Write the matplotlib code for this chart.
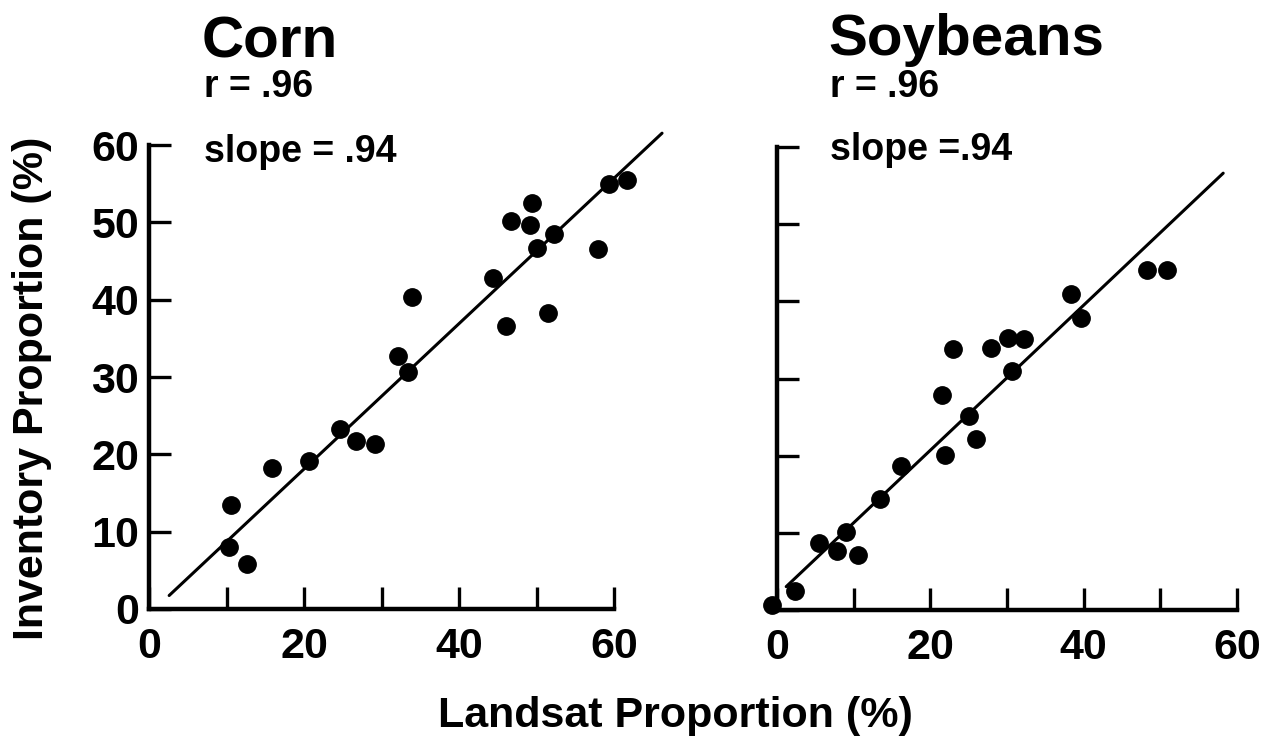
import matplotlib
matplotlib.use("Agg")
import numpy as np
import matplotlib.pyplot as plt

plt.rcParams['font.family'] = ['Liberation Sans', 'DejaVu Sans']
plt.rcParams['font.weight'] = 'bold'

W, H = 1273, 747

# Corn: Landsat vs inventory proportion (%)
corn_landsat = [10.6, 10.3, 12.7, 15.9, 20.7, 24.6, 26.7, 29.1, 32.1, 33.4, 33.9,
                44.4, 46.1, 46.7, 49.4, 49.2, 50.1, 52.2, 51.5, 57.9, 59.3, 61.7]
corn_inventory = [13.4, 8.0, 5.8, 18.2, 19.1, 23.3, 21.7, 21.3, 32.7, 30.6, 40.4,
                  42.8, 36.6, 50.2, 52.5, 49.7, 46.7, 48.5, 38.3, 46.6, 54.9, 55.5]
corn_r = ".96"
corn_slope = 0.94
corn_intercept = -0.7
corn_fit_range = [2.6, 66.2]

# Soybeans: Landsat vs inventory proportion (%)
soy_landsat = [-0.6, 2.3, 5.5, 7.8, 9.0, 10.5, 13.4, 16.2, 21.5, 21.9, 23.0,
               25.1, 26.0, 27.9, 30.1, 32.2, 30.6, 38.4, 39.7, 48.2, 50.9]
soy_inventory = [0.6, 2.5, 8.7, 7.7, 10.1, 7.1, 14.4, 18.6, 27.9, 20.1, 33.8,
                 25.2, 22.1, 34.0, 35.3, 35.1, 31.0, 41.0, 37.8, 44.1, 44.0]
soy_r = ".96"
soy_slope = 0.94
soy_intercept = 1.9
soy_fit_range = [1.2, 58.2]

x_ticks_major = [0, 20, 40, 60]
x_ticks_minor = [10, 30, 50]
y_ticks = [0, 10, 20, 30, 40, 50, 60]

fig = plt.figure(figsize=(W / 100, H / 100), dpi=100)
fig.patch.set_facecolor('white')


def px_box(x0, y0, x1, y1):
    return [x0 / W, 1 - y0 / H, (x1 - x0) / W, (y0 - y1) / H]


ax_corn = fig.add_axes(px_box(149, 609, 614, 145))
ax_soy = fig.add_axes(px_box(777, 610, 1237, 147))


def style_axes(ax, show_ylabels):
    ax.set_xlim(0, 60)
    ax.set_ylim(0, 60)
    for side in ('top', 'right'):
        ax.spines[side].set_visible(False)
    for side in ('left', 'bottom'):
        ax.spines[side].set_linewidth(3.2)
        ax.spines[side].set_capstyle('projecting')
    ax.set_xticks(x_ticks_major)
    ax.set_xticks(x_ticks_minor, minor=True)
    ax.set_yticks(y_ticks)
    ax.tick_params(which='both', direction='in', length=16, width=2.4,
                   color='black')
    ax.tick_params(axis='x', which='major', labelsize=31, pad=13)
    ax.tick_params(axis='y', which='major', labelsize=31, pad=7,
                   labelleft=show_ylabels)
    ax.set_facecolor('none')


def draw_panel(ax, xs, ys, slope, intercept, fit_range):
    fx = np.array(fit_range)
    ax.plot(fx, slope * fx + intercept, color='black', lw=2.2,
            clip_on=False, solid_capstyle='round', zorder=2)
    ax.plot(xs, ys, 'o', color='black', markersize=12.5, clip_on=False,
            zorder=3)


style_axes(ax_corn, True)
style_axes(ax_soy, False)
draw_panel(ax_corn, corn_landsat, corn_inventory, corn_slope, corn_intercept,
           corn_fit_range)
draw_panel(ax_soy, soy_landsat, soy_inventory, soy_slope, soy_intercept,
           soy_fit_range)

# Panel headings and statistics
fig.text(202 / W, 1 - 57 / H, "Corn", fontsize=42, fontweight='bold',
         ha='left', va='baseline')
fig.text(204 / W, 1 - 97 / H, f"r = {corn_r}", fontsize=27,
         fontweight='bold', ha='left', va='baseline')
fig.text(204 / W, 1 - 162 / H, f"slope = {corn_slope:.2f}".replace("0.", "."),
         fontsize=27, fontweight='bold', ha='left', va='baseline')

fig.text(828 / W, 1 - 55 / H, "Soybeans", fontsize=42, fontweight='bold',
         ha='left', va='baseline')
fig.text(830 / W, 1 - 97 / H, f"r = {soy_r}", fontsize=27,
         fontweight='bold', ha='left', va='baseline')
fig.text(830 / W, 1 - 160 / H, f"slope ={soy_slope:.2f}".replace("0.", "."),
         fontsize=27, fontweight='bold', ha='left', va='baseline')

# Shared axis titles
fig.text(675 / W, 1 - 727 / H, "Landsat Proportion (%)", fontsize=31,
         fontweight='bold', ha='center', va='baseline')
fig.text(32 / W, 1 - 388 / H, "Inventory Proportion (%)", fontsize=31,
         fontweight='bold', rotation=90, ha='center', va='center')

fig.savefig("out.png", dpi=100, facecolor='white')
